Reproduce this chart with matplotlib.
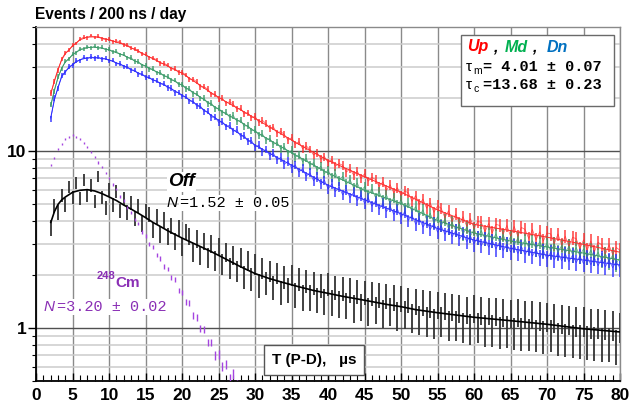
import numpy as np
import matplotlib
matplotlib.use('Agg')
import matplotlib.pyplot as plt
from matplotlib.ticker import MultipleLocator, FixedLocator, NullFormatter, LogLocator
from matplotlib.patches import Rectangle

# ---------------- data (events / 200 ns / day), bins start at 2 us, 0.5 us apart
BIN0 = 2.0
BIN = 0.5

UP = [
    21.3, 24.7, 28.6, 33.2, 35.9, 37.0, 39.8, 40.5, 42.9, 43.9,
    43.6, 44.9, 43.8, 44.5, 43.1, 42.6, 43.0, 41.5, 41.9, 41.4,
    39.6, 39.8, 38.1, 37.9, 36.9, 35.2, 35.2, 33.7, 33.6, 32.8,
    31.2, 31.3, 30.6, 29.0, 29.2, 27.7, 27.9, 26.9, 25.4, 25.5,
    24.6, 23.0, 23.1, 22.4, 20.9, 21.0, 19.7, 19.9, 18.6, 19.0,
    18.4, 17.2, 17.5, 16.2, 16.5, 15.4, 15.7, 14.5, 14.9, 14.3,
    13.4, 13.7, 12.6, 12.9, 12.4, 11.5, 11.9, 10.9, 11.3, 10.3,
    10.7, 10.2, 9.5, 9.8, 9.0, 9.3, 8.6, 8.95, 8.2, 8.5,
    8.3, 7.6, 7.95, 7.3, 7.7, 7.0, 7.45, 6.75, 7.1, 6.9,
    6.3, 6.7, 6.0, 6.45, 5.8, 6.2, 5.6, 5.95, 5.8, 5.2,
    5.6, 5.0, 5.35, 4.75, 5.1, 4.5, 4.9, 4.75, 4.2, 4.6,
    4.0, 4.4, 3.9, 4.25, 3.75, 4.15, 3.65, 4.0, 3.95, 3.5,
    3.9, 3.45, 3.85, 3.8, 3.4, 3.8, 3.3, 3.75, 3.3, 3.7,
    3.6, 3.2, 3.6, 3.15, 3.5, 3.1, 3.45, 3.4, 3.0, 3.4,
    2.95, 3.3, 2.9, 3.25, 3.2, 2.8, 3.15, 2.75, 3.1, 2.7,
    3.05, 2.95, 2.62, 2.95, 2.6, 2.85, 2.75,
]

MD = [
    18.3, 21.8, 26.4, 29.1, 32.3, 33.0, 35.4, 36.0, 37.9, 37.6,
    38.9, 38.2, 39.1, 38.0, 38.6, 37.3, 37.6, 36.2, 36.6, 35.0,
    35.2, 33.5, 33.8, 32.0, 32.1, 30.3, 30.5, 28.9, 29.2, 27.6,
    27.9, 26.4, 26.5, 25.0, 25.2, 23.7, 23.9, 22.4, 22.5, 21.0,
    21.2, 19.8, 19.9, 18.5, 18.7, 17.3, 17.5, 16.4, 16.6, 15.5,
    15.9, 14.7, 15.0, 13.8, 14.0, 13.0, 13.2, 12.2, 12.5, 11.5,
    11.8, 10.9, 11.2, 10.3, 10.6, 9.7, 10.1, 9.2, 9.55, 8.7,
    9.1, 8.3, 8.6, 7.8, 8.2, 7.45, 7.8, 7.1, 7.5, 6.8,
    7.2, 6.5, 6.9, 6.2, 6.6, 5.9, 6.3, 5.65, 6.1, 5.45,
    5.9, 5.25, 5.65, 5.05, 5.45, 4.9, 5.3, 4.75, 5.1, 4.55,
    4.85, 4.3, 4.65, 4.1, 4.45, 3.92, 4.25, 3.8, 4.1, 3.65,
    3.95, 3.55, 3.85, 3.4, 3.72, 3.3, 3.62, 3.25, 3.55, 3.18,
    3.45, 3.12, 3.4, 3.05, 3.35, 2.98, 3.28, 2.95, 3.22, 2.9,
    3.15, 2.85, 3.12, 2.8, 3.08, 2.76, 3.02, 2.72, 2.98, 2.68,
    2.92, 2.65, 2.9, 2.6, 2.85, 2.56, 2.8, 2.52, 2.75, 2.48,
    2.68, 2.42, 2.62, 2.38, 2.58, 2.33, 2.5,
]

DN = [
    15.2, 19.9, 22.6, 26.8, 27.8, 30.1, 30.5, 32.5, 32.4, 33.9,
    33.1, 34.2, 33.3, 34.0, 32.9, 33.5, 32.2, 32.6, 31.0, 31.3,
    29.8, 30.0, 28.5, 28.7, 27.1, 27.4, 25.9, 26.2, 24.9, 25.1,
    23.9, 24.1, 22.7, 22.7, 21.3, 21.5, 20.3, 20.4, 19.1, 19.2,
    17.9, 18.0, 16.7, 16.8, 15.5, 15.6, 14.5, 14.7, 13.7, 14.0,
    12.9, 13.2, 12.1, 12.3, 11.3, 11.5, 10.5, 10.8, 9.9, 10.2,
    9.4, 9.75, 8.9, 9.2, 8.4, 8.75, 8.0, 8.35, 7.6, 7.95,
    7.2, 7.55, 6.8, 7.15, 6.5, 6.85, 6.1, 6.5, 5.9, 6.25,
    5.65, 6.05, 5.45, 5.85, 5.25, 5.62, 5.05, 5.45, 4.88, 5.22,
    4.7, 5.05, 4.55, 4.88, 4.38, 4.7, 4.22, 4.55, 4.05, 4.35,
    3.85, 4.15, 3.72, 4.0, 3.6, 3.9, 3.48, 3.78, 3.38, 3.65,
    3.28, 3.55, 3.18, 3.42, 3.08, 3.32, 2.98, 3.25, 2.92, 3.18,
    2.86, 3.12, 2.8, 3.05, 2.74, 2.98, 2.69, 2.93, 2.64, 2.88,
    2.6, 2.83, 2.55, 2.78, 2.5, 2.73, 2.46, 2.68, 2.43, 2.66,
    2.4, 2.62, 2.37, 2.58, 2.34, 2.55, 2.31, 2.52, 2.28, 2.49,
    2.25, 2.46, 2.22, 2.42, 2.19, 2.38, 2.17,
]

OFF = [
    3.7, 4.9, 4.5, 5.6, 5.0, 6.3, 5.5, 6.6, 5.4, 6.9,
    5.6, 6.4, 5.2, 7.2, 5.5, 4.8, 6.1, 5.0, 5.9, 4.6,
    5.4, 4.5, 5.1, 4.2, 4.9, 3.9, 4.6, 4.4, 3.6, 4.3,
    3.4, 4.1, 3.3, 3.8, 3.1, 3.7, 2.9, 3.5, 3.3, 2.7,
    3.2, 2.6, 3.1, 2.5, 3.0, 2.4, 2.9, 2.3, 2.7, 2.2,
    2.6, 2.1, 2.5, 1.95, 2.4, 1.9, 2.3, 1.75, 2.2, 1.8,
    2.1, 1.7, 2.05, 1.6, 1.95, 1.65, 2.0, 1.55, 1.9, 1.5,
    1.85, 1.5, 1.8, 1.45, 1.75, 1.42, 1.78, 1.4, 1.7, 1.38,
    1.68, 1.35, 1.65, 1.3, 1.62, 1.32, 1.6, 1.25, 1.58, 1.28,
    1.55, 1.22, 1.52, 1.25, 1.5, 1.18, 1.48, 1.2, 1.45, 1.15,
    1.42, 1.12, 1.4, 1.1, 1.38, 1.08, 1.36, 1.1, 1.34, 1.05,
    1.32, 1.05, 1.3, 1.02, 1.28, 1.0, 1.3, 1.02, 1.27, 0.98,
    1.26, 0.98, 1.25, 0.96, 1.24, 0.97, 1.22, 0.95, 1.23, 0.94,
    1.2, 0.93, 1.2, 0.92, 1.18, 0.9, 1.17, 0.92, 1.15, 0.88,
    1.14, 0.87, 1.12, 0.86, 1.1, 0.85, 1.1, 0.84, 1.08, 0.83,
    1.07, 0.82, 1.06, 0.82, 1.05, 0.8, 1.02,
]

CM = [
    8.35, 9.15, 10.25, 10.95, 11.65, 11.95, 12.25, 12.05, 11.75, 11.05,
    10.55, 9.85, 9.25, 8.6, 8.15, 7.5, 7.05, 6.45, 6.1, 5.55,
    5.25, 4.8, 4.5, 4.1, 3.9, 3.5, 3.32, 3.0, 2.88, 2.58,
    2.47, 2.22, 2.16, 1.92, 1.87, 1.63, 1.59, 1.4, 1.39, 1.18,
    1.15, 0.99, 0.98, 0.83, 0.83, 0.7, 0.71, 0.61, 0.62, 0.52,
    0.55, 0.48,
]

# fitted curves
FIT_T_C = [2, 2.5, 3, 3.5, 4, 5, 6, 7, 8, 9, 10, 12, 14, 16, 18, 20, 22, 24, 26,
           28, 30, 33, 36, 40, 45, 50, 55, 60, 65, 70, 75, 80]
UP_FIT = [21.0, 25.0, 29.0, 32.8, 35.5, 39.3, 42.5, 44.0, 44.2, 43.5, 42.4, 40.1,
          36.6, 33.2, 30.2, 27.5, 24.2, 21.3, 19.0, 17.1, 15.3, 12.9, 10.9, 8.85,
          7.15, 5.85, 4.65, 3.85, 3.55, 3.26, 2.97, 2.68]
MD_FIT = [18.0, 22.2, 26.0, 29.5, 31.8, 35.0, 37.3, 38.4, 38.6, 38.1, 37.2, 34.7,
          31.6, 28.7, 26.1, 23.5, 20.8, 18.3, 16.2, 14.6, 12.9, 10.9, 9.25, 7.5,
          6.0, 5.05, 4.05, 3.44, 3.1, 2.87, 2.65, 2.42]
DN_FIT = [15.5, 19.5, 23.0, 26.3, 28.2, 30.9, 32.8, 33.6, 33.7, 33.4, 32.7, 30.3,
          27.6, 25.3, 23.1, 20.7, 18.3, 15.9, 14.0, 12.4, 10.8, 9.2, 7.9, 6.4,
          5.3, 4.42, 3.65, 3.14, 2.82, 2.58, 2.42, 2.27]
OFF_FIT_T = [2, 2.5, 3, 3.5, 4, 5, 6, 7, 8, 9, 10, 11, 12, 13, 14, 15, 16, 17, 18, 19,
             20, 22, 24, 26, 28, 30, 32, 34, 36, 38, 40, 42, 44, 46, 48, 50, 52, 55,
             60, 65, 70, 75, 80]
OFF_FIT = [3.95, 4.55, 5.0, 5.3, 5.5, 5.85, 6.0, 6.05, 5.95, 5.75, 5.5, 5.25, 4.95,
           4.7, 4.45, 4.2, 3.95, 3.75, 3.55, 3.38, 3.22, 2.95, 2.7, 2.45, 2.22, 2.03,
           1.9, 1.8, 1.71, 1.63, 1.57, 1.51, 1.46, 1.41, 1.36, 1.32, 1.27, 1.22, 1.15,
           1.1, 1.05, 0.99, 0.95]

# statistical error scale (error = K * sqrt(counts-rate))
K_COL = 0.16
K_OFF = 0.2
K_CM = 0.045

X_TICKS = list(range(0, 81, 5))
Y_TICKS = [1, 10]
Y_TICK_LABELS = ['1', '10']

TITLE = 'Events / 200 ns / day'
XLABEL = 'T (P-D),   \u00b5s'


def t_of(vals):
    return BIN0 + BIN * np.arange(len(vals))


W, H = 636, 404
fig = plt.figure(figsize=(W / 100, H / 100), dpi=100)
AX_L, AX_R, AX_T, AX_B = 36.2, 620.0, 27.3, 381.3
ax = fig.add_axes([AX_L / W, 1 - AX_B / H, (AX_R - AX_L) / W, (AX_B - AX_T) / H])
ax.set_yscale('log')
ax.set_xlim(0, 80)
ax.set_ylim(0.5, 50)
ax.set_axisbelow(True)

SANS = ['Liberation Sans', 'DejaVu Sans']
NARROW = ['Liberation Sans Narrow', 'Liberation Sans', 'DejaVu Sans']
MONO = ['Liberation Mono', 'DejaVu Sans Mono']

RED, GREEN, BLUE = '#ff2a2a', '#3a9a68', '#2a2aff'
PURPLE = '#a444e0'
PURPLE_TXT = '#8a2fb5'

for vals, fit, col in ((UP, UP_FIT, RED), (MD, MD_FIT, GREEN), (DN, DN_FIT, BLUE)):
    v = np.array(vals)
    t = t_of(vals)
    ax.errorbar(t, v, yerr=K_COL * np.sqrt(v), fmt='none', ecolor=col,
                elinewidth=1.1, alpha=0.9, zorder=3)
    ax.plot(t, v, color=col, lw=0.5, alpha=0.8, zorder=3.2)
    ax.plot(FIT_T_C, fit, color=col, lw=0.7, zorder=3.5)

v = np.array(OFF)
ax.errorbar(t_of(OFF), v, yerr=K_OFF * np.sqrt(v), fmt='none', ecolor='#333333',
            elinewidth=1.3, zorder=4)
ax.plot(OFF_FIT_T, OFF_FIT, color='black', lw=1.2, zorder=4.5)

v = np.array(CM)
ax.errorbar(t_of(CM), v, yerr=K_CM * np.sqrt(v), fmt='none', ecolor=PURPLE,
            elinewidth=1.0, zorder=5)

# grid
ax.xaxis.set_major_locator(FixedLocator(X_TICKS))
ax.xaxis.set_minor_locator(MultipleLocator(1))
ax.yaxis.set_major_locator(FixedLocator(Y_TICKS))
ax.yaxis.set_minor_locator(LogLocator(base=10, subs=np.arange(2, 10)))
ax.yaxis.set_minor_formatter(NullFormatter())
ax.set_yticklabels(Y_TICK_LABELS)
ax.grid(which='major', axis='x', color='#8a8a8a', lw=1.0)
ax.grid(which='major', axis='y', color='#505050', lw=1.0)
ax.grid(which='minor', axis='y', color='#cccccc', lw=1.1)

ax.tick_params(axis='x', which='major', direction='in', length=6, width=1.0, pad=5)
ax.tick_params(axis='x', which='minor', direction='in', length=4, width=0.8)
ax.tick_params(axis='y', which='major', direction='out', length=6, width=1.0, pad=1)
ax.tick_params(axis='y', which='minor', direction='out', length=3, width=0.8)
for lab in ax.get_xticklabels() + ax.get_yticklabels():
    lab.set_fontfamily(NARROW)
    lab.set_fontweight('bold')
    lab.set_fontsize(12.5)

for s in ('left', 'bottom'):
    ax.spines[s].set_color('black')
    ax.spines[s].set_linewidth(1.3)
for s in ('top', 'right'):
    ax.spines[s].set_color('#8a8a8a')
    ax.spines[s].set_linewidth(1.0)


def fx(px):
    return px / W


def fy(py):
    return 1 - py / H


WHITE = dict(facecolor='white', edgecolor='none', pad=1.0)

fig.text(fx(35), fy(15), TITLE, fontsize=11.2, fontweight='bold', family=SANS,
         va='center', ha='left')

# legend box
bx0, bx1, by0, by1 = 461, 614, 35, 106
ax.add_patch(Rectangle(((bx0 - AX_L) / (AX_R - AX_L), (AX_B - by1) / (AX_B - AX_T)),
                       (bx1 - bx0) / (AX_R - AX_L), (by1 - by0) / (AX_B - AX_T),
                       transform=ax.transAxes, facecolor='white', edgecolor='#6a6a6a',
                       lw=1.0, zorder=8))
LEG = [('Up', '#ff0000', 467), (',', 'black', 493), ('Md', '#00b050', 505),
       (',', 'black', 532), ('Dn', '#0070c0', 547)]
for s, c, px in LEG:
    fig.text(fx(px), fy(47), s, color=c, fontsize=11.5, fontweight='bold', style='italic',
             family=SANS, va='center', ha='left', zorder=9)
fig.text(fx(466), fy(67), '\u03c4', fontsize=11, family=SANS, va='center', zorder=9)
fig.text(fx(473), fy(71), 'm', fontsize=7.5, family=SANS, va='center', zorder=9)
fig.text(fx(483), fy(67), '= 4.01 \u00b1 0.07', fontsize=11, family=MONO,
         fontweight='bold', va='center', zorder=9)
fig.text(fx(466), fy(85), '\u03c4', fontsize=11, family=SANS, va='center', zorder=9)
fig.text(fx(473), fy(89), 'c', fontsize=7.5, family=SANS, va='center', zorder=9)
fig.text(fx(483), fy(85), '=13.68 \u00b1 0.23', fontsize=11, family=MONO,
         fontweight='bold', va='center', zorder=9)

# Off labels
fig.text(fx(168), fy(182), 'Off', fontsize=13.5, fontweight='bold', style='italic',
         family=SANS, va='center', bbox=WHITE, zorder=9)
fig.text(fx(180), fy(203), '=1.52 \u00b1 0.05', fontsize=11, family=MONO, va='center',
         bbox=WHITE, zorder=9)
fig.text(fx(167), fy(203), 'N', fontsize=11, style='italic', family=SANS, va='center',
         zorder=10)

# Cm labels
fig.text(fx(97), fy(276), '248', fontsize=8, color=PURPLE_TXT, fontweight='bold',
         family=SANS, va='center', zorder=9)
fig.text(fx(115), fy(283), 'Cm', fontsize=11, color=PURPLE_TXT, fontweight='bold',
         family=SANS, va='center', zorder=9)
fig.text(fx(57), fy(307), '=3.20 \u00b1 0.02', fontsize=11, family=MONO, va='center',
         color=PURPLE_TXT, bbox=WHITE, zorder=9)
fig.text(fx(44), fy(307), 'N', fontsize=11, style='italic', family=SANS, va='center',
         color=PURPLE_TXT, zorder=10)

# axis label box
fig.text(fx(314), fy(360), XLABEL, fontsize=11, fontweight='bold', family=SANS,
         va='center', ha='center', zorder=9,
         bbox=dict(facecolor='white', edgecolor='#555555', lw=1.0,
                   boxstyle='square,pad=0.5'))

fig.savefig('out.png', dpi=100)
